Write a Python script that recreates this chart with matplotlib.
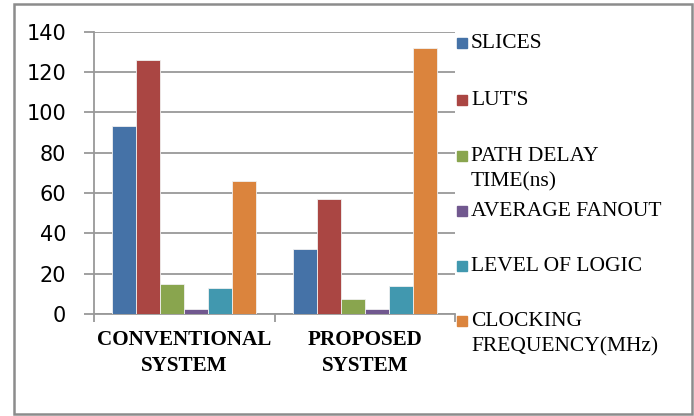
import numpy as np
import matplotlib.pyplot as plt
from matplotlib.patches import Rectangle

# categories and series
categories = ['CONVENTIONAL\nSYSTEM', 'PROPOSED\nSYSTEM']
series_names = ['SLICES', "LUT'S", 'PATH DELAY\nTIME(ns)', 'AVERAGE FANOUT',
                'LEVEL OF LOGIC', 'CLOCKING\nFREQUENCY(MHz)']
slices = [93, 32]
luts = [126, 57]
path_delay = [15, 7.3]
avg_fanout = [2.3, 2.3]
level_logic = [13, 13.7]
clock_freq = [66, 132]
yticks = [0, 20, 40, 60, 80, 100, 120, 140]

colors = ['#4572A7', '#AA4643', '#89A54E', '#71588F', '#4198AF', '#DB843D']
values = [slices, luts, path_delay, avg_fanout, level_logic, clock_freq]

fig = plt.figure(figsize=(6.94, 4.16), dpi=100)
ax = fig.add_axes([94 / 694, 1 - 314 / 416, 361 / 694, 282.5 / 416])

# outer chart frame
fig.patches.append(Rectangle((14 / 694, 2 / 416), 678 / 694, 410 / 416,
                             transform=fig.transFigure, fill=False,
                             edgecolor='#8c8c8c', linewidth=1.8))

x = np.arange(len(categories))
w = 0.8 / len(values)
for i, (vals, c) in enumerate(zip(values, colors)):
    ax.bar(x - 0.4 + w * (i + 0.5), vals, width=w, color=c,
           edgecolor='#f0f0f0', linewidth=0.6, zorder=3)

ax.set_xlim(-0.5, 1.5)
ax.set_ylim(0, 140)
ax.set_yticks(yticks)
ax.set_yticklabels([str(t) for t in yticks], fontsize=15, family='DejaVu Sans')
ax.yaxis.grid(True, color='#999999', linewidth=1.3, zorder=0)
ax.set_xticks([-0.5, 0.5, 1.5])
ax.set_xticklabels([])
ax.tick_params(axis='x', length=6, color='#999999', width=1.3)
ax.tick_params(axis='y', length=7, color='#999999', width=1.3, pad=13)
for s in ['top', 'right']:
    ax.spines[s].set_visible(False)
for s in ['left', 'bottom']:
    ax.spines[s].set_color('#999999')
    ax.spines[s].set_linewidth(1.3)

for xi, lab in zip(x, categories):
    ax.text(xi, -0.055, lab, transform=ax.get_xaxis_transform(), ha='center',
            va='top', fontsize=15.2, fontweight='bold', family='Liberation Serif',
            linespacing=1.4)

# legend drawn by hand to keep markers on the first line of each label
leg_y = [43, 100, 156, 211, 266, 321]
for name, c, yy in zip(series_names, colors, leg_y):
    fig.patches.append(Rectangle((457 / 694, 1 - (yy + 5) / 416), 10 / 694, 10 / 416,
                                 transform=fig.transFigure, color=c))
    fig.text(471 / 694, 1 - (yy - 9) / 416, name, ha='left', va='top',
             fontsize=15.5, family='Liberation Serif', linespacing=1.45)

fig.savefig('out.png', dpi=100)
